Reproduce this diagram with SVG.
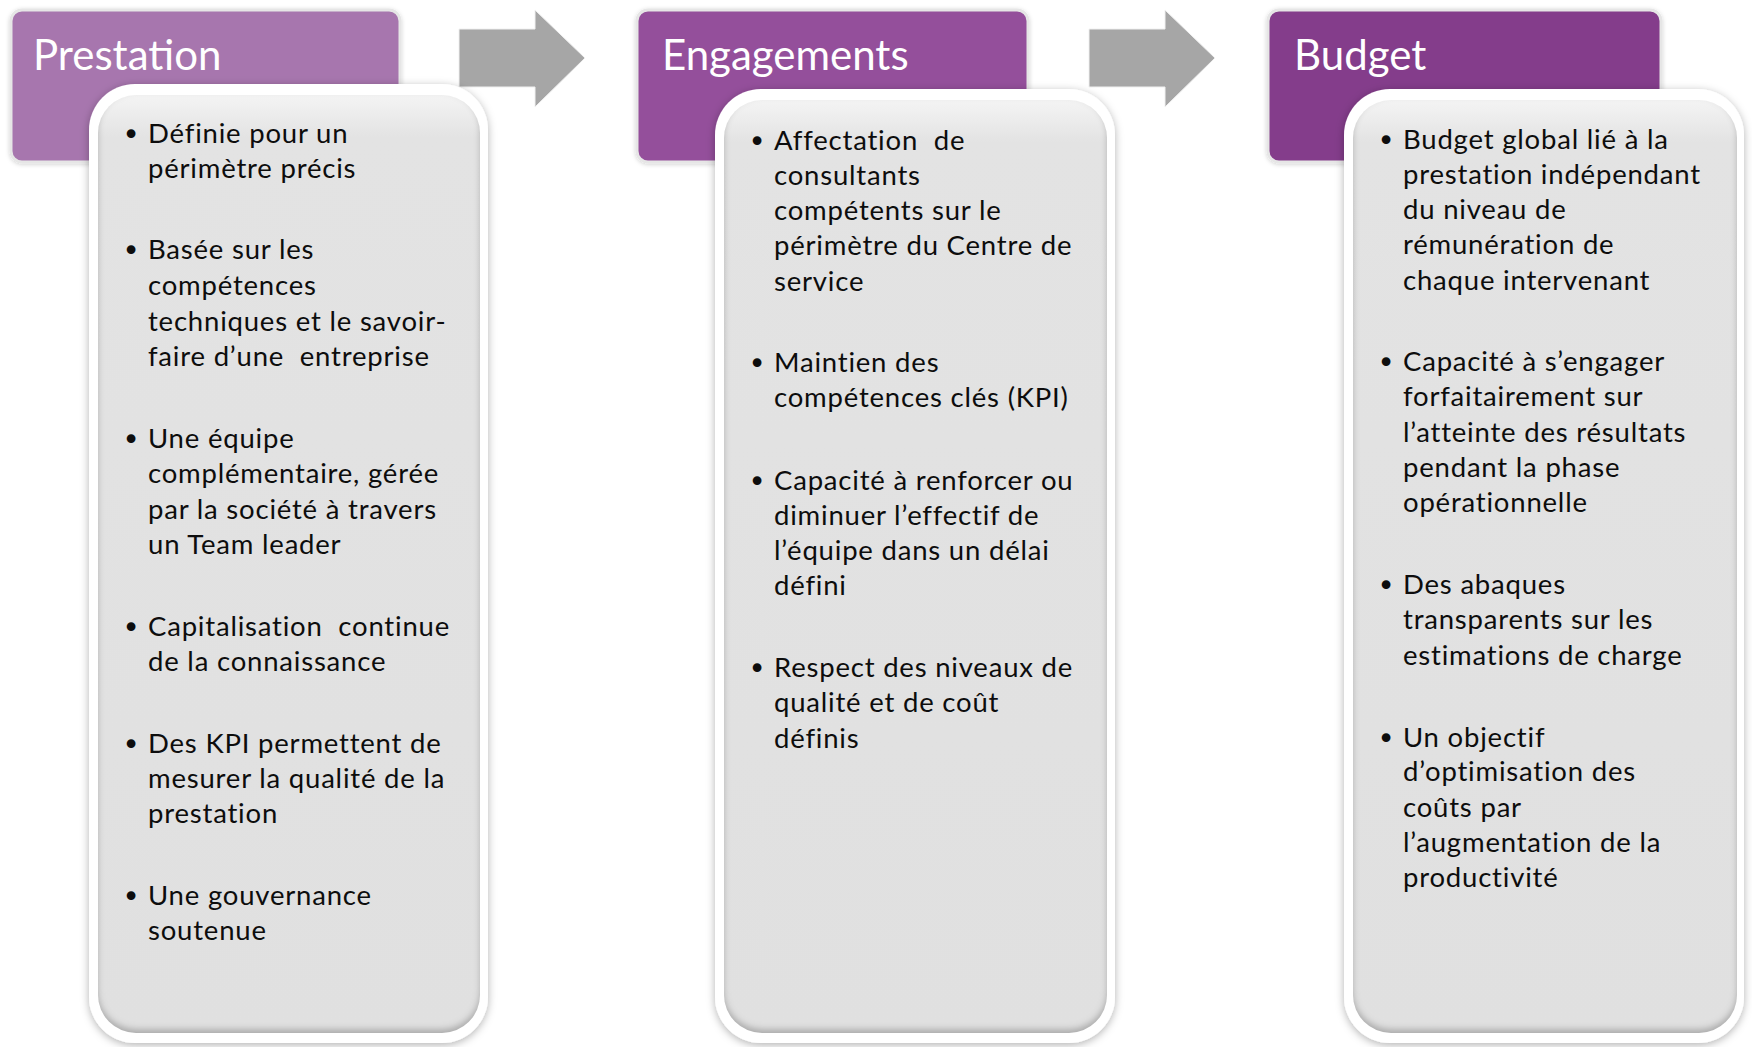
<svg xmlns="http://www.w3.org/2000/svg" width="1752" height="1047" viewBox="0 0 1752 1047"><defs><style>
.hdr-t{font-family:Lato,"Open Sans","Liberation Sans",sans-serif;font-size:42px;fill:#ffffff}
.body{font-family:Lato,"Open Sans","Liberation Sans",sans-serif;font-size:27.5px;letter-spacing:0.8px;fill:#0d0d0d}
.bul{font-family:"DejaVu Sans",sans-serif;font-size:30px;letter-spacing:0;fill:#0d0d0d;text-anchor:middle}
.outer{fill:#ffffff;filter:url(#drop)}
.inner{fill:url(#ig);filter:url(#inset)}
.arrow{fill:#a6a6a6;stroke:#f0f0f0;stroke-width:1}
</style><linearGradient id="ig" x1="0" y1="0" x2="0" y2="1"><stop offset="0" stop-color="#f4f4f4"/><stop offset="0.045" stop-color="#e3e3e3"/><stop offset="1" stop-color="#e0e0e0"/></linearGradient><filter id="drop" x="-10%" y="-10%" width="120%" height="120%"><feDropShadow dx="0" dy="2" stdDeviation="4" flood-color="#000" flood-opacity="0.3"/></filter><filter id="hdrshadow" x="-10%" y="-10%" width="120%" height="130%"><feDropShadow dx="0" dy="1" stdDeviation="2" flood-color="#000" flood-opacity="0.18"/></filter><filter id="inset" x="-5%" y="-5%" width="110%" height="110%"><feComponentTransfer in="SourceAlpha" result="inv"><feFuncA type="table" tableValues="1 0"/></feComponentTransfer><feGaussianBlur in="inv" stdDeviation="3" result="blur"/><feOffset in="blur" dx="0" dy="-4" result="off"/><feFlood flood-color="#000" flood-opacity="0.45"/><feComposite in2="off" operator="in" result="sh"/><feComposite in="sh" in2="SourceAlpha" operator="in" result="ish"/><feMerge><feMergeNode in="SourceGraphic"/><feMergeNode in="ish"/></feMerge></filter></defs>
<rect width="1752" height="1047" fill="#ffffff"/>
<g id="connectors"><polygon class="arrow" points="459,29 535,29 535,10 585,58 535,107 535,87 459,87"/><polygon class="arrow" points="1089,29 1165,29 1165,10 1215,58 1165,107 1165,87 1089,87"/></g>
<g id="prestation"><rect x="11" y="10" width="389" height="152" rx="11" fill="#a776ae" stroke="#e6e6e6" stroke-width="3" filter="url(#hdrshadow)"/><text class="hdr-t" x="33" y="70">Prestation</text><rect class="outer" x="89" y="84" width="399" height="959" rx="46"/><rect class="inner" x="98" y="95" width="382" height="938" rx="38"/><g class="body"><text class="bul" x="131" y="145">•</text><text x="148" y="143">Définie pour un</text><text x="148" y="178">périmètre précis</text><text class="bul" x="131" y="261">•</text><text x="148" y="259">Basée sur les</text><text x="148" y="295">compétences</text><text x="148" y="330.5">techniques et le savoir-</text><text x="148" y="366">faire d’une&#160; entreprise</text><text class="bul" x="131" y="450">•</text><text x="148" y="448">Une équipe</text><text x="148" y="483">complémentaire, gérée</text><text x="148" y="518.5">par la société à travers</text><text x="148" y="554">un Team leader</text><text class="bul" x="131" y="637.5">•</text><text x="148" y="635.5">Capitalisation&#160; continue</text><text x="148" y="671">de la connaissance</text><text class="bul" x="131" y="755">•</text><text x="148" y="753">Des KPI permettent de</text><text x="148" y="788">mesurer la qualité de la</text><text x="148" y="823">prestation</text><text class="bul" x="131" y="907">•</text><text x="148" y="905">Une gouvernance</text><text x="148" y="940">soutenue</text></g></g>
<g id="engagements"><rect x="637" y="10" width="391" height="152" rx="11" fill="#944f9b" stroke="#e6e6e6" stroke-width="3" filter="url(#hdrshadow)"/><text class="hdr-t" x="662" y="70">Engagements</text><rect class="outer" x="715" y="89" width="400" height="954" rx="46"/><rect class="inner" x="724" y="100" width="383" height="933" rx="38"/><g class="body"><text class="bul" x="757" y="151.5">•</text><text x="774" y="149.5">Affectation&#160; de</text><text x="774" y="184.5">consultants</text><text x="774" y="220">compétents sur le</text><text x="774" y="255">périmètre du Centre de</text><text x="774" y="290.5">service</text><text class="bul" x="757" y="374">•</text><text x="774" y="372">Maintien des</text><text x="774" y="407">compétences clés (KPI)</text><text class="bul" x="757" y="491.5">•</text><text x="774" y="489.5">Capacité à renforcer ou</text><text x="774" y="524.5">diminuer l’effectif de</text><text x="774" y="560">l’équipe dans un délai</text><text x="774" y="595">défini</text><text class="bul" x="757" y="679">•</text><text x="774" y="677">Respect des niveaux de</text><text x="774" y="712">qualité et de coût</text><text x="774" y="747.5">définis</text></g></g>
<g id="budget"><rect x="1268" y="10" width="393" height="152" rx="11" fill="#843c8b" stroke="#e6e6e6" stroke-width="3" filter="url(#hdrshadow)"/><text class="hdr-t" x="1294" y="70">Budget</text><rect class="outer" x="1344" y="89" width="400" height="954" rx="46"/><rect class="inner" x="1353" y="100" width="384" height="933" rx="38"/><g class="body"><text class="bul" x="1386" y="150.5">•</text><text x="1403" y="148.5">Budget global lié à la</text><text x="1403" y="183.5">prestation indépendant</text><text x="1403" y="219">du niveau de</text><text x="1403" y="254">rémunération de</text><text x="1403" y="289.5">chaque intervenant</text><text class="bul" x="1386" y="373">•</text><text x="1403" y="371">Capacité à s’engager</text><text x="1403" y="406">forfaitairement sur</text><text x="1403" y="441.5">l’atteinte des résultats</text><text x="1403" y="476.5">pendant la phase</text><text x="1403" y="512">opérationnelle</text><text class="bul" x="1386" y="595.5">•</text><text x="1403" y="593.5">Des abaques</text><text x="1403" y="629">transparents sur les</text><text x="1403" y="665">estimations de charge</text><text class="bul" x="1386" y="748.5">•</text><text x="1403" y="746.5">Un objectif</text><text x="1403" y="781">d’optimisation des</text><text x="1403" y="816.5">coûts par</text><text x="1403" y="851.5">l’augmentation de la</text><text x="1403" y="887">productivité</text></g></g>
</svg>
